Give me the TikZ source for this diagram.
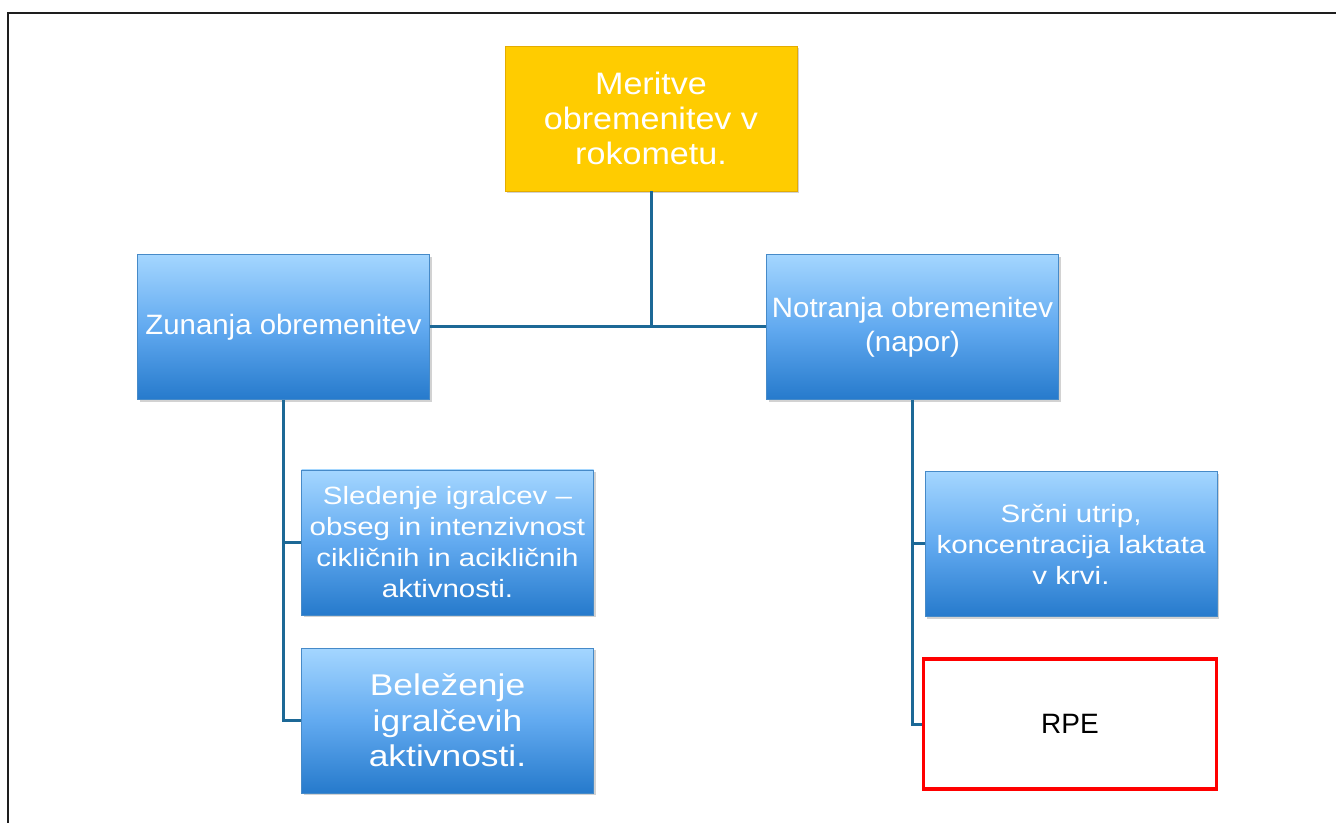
\documentclass[tikz,border=0pt]{standalone}
\usepackage{fontspec}
\setmainfont{Liberation Sans}
\newfontfamily\wideA{Liberation Sans}[FakeStretch=1.10]
\newfontfamily\wideB{Liberation Sans}[FakeStretch=1.05]
\newfontfamily\wideC{Liberation Sans}[FakeStretch=1.18]
\usetikzlibrary{shadows}
\definecolor{gold}{RGB}{255,204,0}
\definecolor{goldedge}{RGB}{228,172,0}
\definecolor{bluetop}{RGB}{164,214,255}
\definecolor{bluemid}{RGB}{98,170,240}
\definecolor{bluebot}{RGB}{38,122,204}
\definecolor{blueedge}{RGB}{70,138,200}
\definecolor{link}{RGB}{28,104,150}
\definecolor{rpered}{RGB}{255,0,0}
\definecolor{frame}{RGB}{30,30,30}

\begin{document}
\begin{tikzpicture}[x=0.75pt,y=-0.75pt,
  base/.style={rectangle, inner sep=0pt, align=center,
    minimum width=219pt, minimum height=108.75pt},
  shade/.style={drop shadow={shadow xshift=1.5pt, shadow yshift=-1.8pt, opacity=0.35}},
  goldbox/.style={base, shade, fill=gold, draw=goldedge, line width=0.6pt, text=white,
    font=\wideA\fontsize{23.25pt}{26.25pt}\selectfont},
  bluebox/.style={base, shade, top color=bluetop, bottom color=bluebot,
    middle color=bluemid, draw=blueedge, line width=0.5pt, text=white},
  midtext/.style={font=\wideB\fontsize{21pt}{25.5pt}\selectfont},
  smalltext/.style={font=\wideC\fontsize{18.75pt}{23.25pt}\selectfont},
  bigtext/.style={font=\wideC\fontsize{22.5pt}{26.6pt}\selectfont},
  redbox/.style={base, minimum width=219.5pt, minimum height=97.5pt, fill=white,
    draw=rpered, line width=2.3pt, text=black,
    font=\fontsize{21pt}{25pt}\selectfont},
  link/.style={draw=link, line width=2.25pt}]

% page area and frame
\useasboundingbox (0,0) rectangle (1336,823);
\fill[white] (0,0) rectangle (1336,823);
\coordinate (frameTL) at (8,13);
\coordinate (frameTR) at (1336,13);
\coordinate (frameBL) at (8,823);
\draw[frame, line width=1.5pt] (frameBL) -- (frameTL) -- (frameTR);

% boxes
\node[goldbox] (top) at (651,118.5) {Meritve\\obremenitev v\\rokometu.};
\node[bluebox, midtext] (zun) at (283.5,327) {Zunanja obremenitev};
\node[bluebox, midtext] (not) at (912.5,327) {Notranja obremenitev\\(napor)};
\node[bluebox, smalltext] (sled) at (447.5,542.5)
  {Sledenje igralcev –\\obseg in intenzivnost\\cikličnih in acikličnih\\aktivnosti.};
\node[bluebox, bigtext] (bel) at (447.5,720.5)
  {Beleženje\\igralčevih\\aktivnosti.};
\node[bluebox, smalltext] (src) at (1071,544)
  {Srčni utrip,\\koncentracija laktata\\v krvi.};
\node[redbox] (rpe) at (1070,724) {RPE};

% connectors
\draw[link] (zun.east) -- (not.west);
\draw[link] (top.south) -- (top.south |- zun.east);
\draw[link] (zun.south) |- (sled.west);
\draw[link] (zun.south) |- (bel.west);
\draw[link] (not.south) |- (src.west);
\draw[link] (not.south) |- (rpe.west);
\end{tikzpicture}
\end{document}
